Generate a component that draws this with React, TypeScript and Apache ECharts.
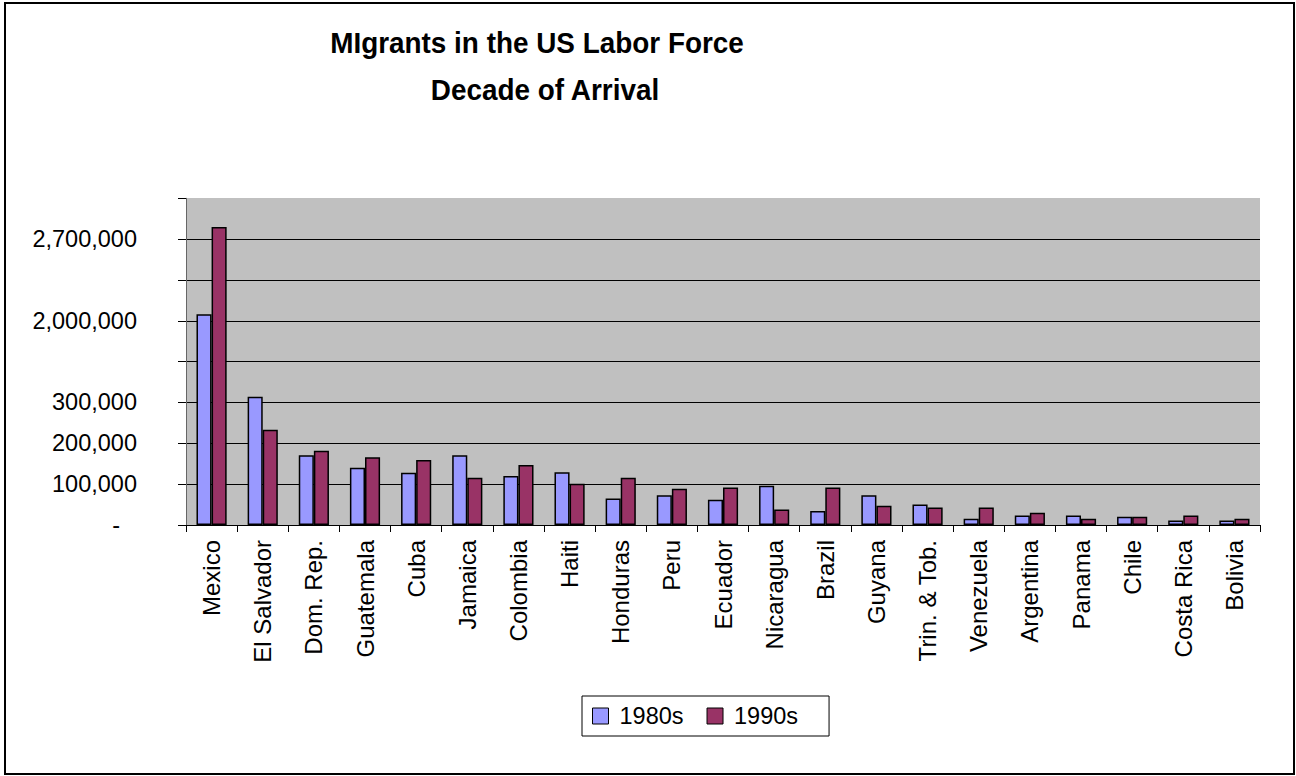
import React, { useEffect, useRef } from "react";
import * as echarts from "echarts";

const categories = [
  "Mexico", "El Salvador", "Dom. Rep.", "Guatemala", "Cuba", "Jamaica", "Colombia",
  "Haiti", "Honduras", "Peru", "Ecuador", "Nicaragua", "Brazil", "Guyana",
  "Trin. & Tob.", "Venezuela", "Argentina", "Panama", "Chile", "Costa Rica", "Bolivia",
];
const arrivals1980s = [
  2056000, 314000, 171000, 140000, 128000, 171000, 120000, 129000, 65000, 73000, 62000,
  96000, 34000, 73000, 50000, 15000, 23000, 23000, 20000, 11000, 11000,
];
const arrivals1990s = [
  2805000, 233000, 182000, 166000, 159000, 116000, 147000, 101000, 116000, 89000, 92000,
  38000, 92000, 47000, 43000, 43000, 30000, 15000, 20000, 23000, 15000,
];
const seriesNames = ["1980s", "1990s"];
const yTickLabels = ["-", "100,000", "200,000", "300,000", "", "2,000,000", "", "2,700,000", ""];
const titleLines = ["MIgrants in the US Labor Force", "Decade of Arrival"];

// broken axis: below 1,000,000 one step = 100,000; above, 2,000,000 sits at step 5, 350,000 per step
function toAxis(v: number): number {
  return v < 1000000 ? v / 100000 : 5 + (v - 2000000) / 350000;
}

const FONT = "'Liberation Sans', Arial, Helvetica, sans-serif";

export default function App() {
  const ref = useRef<HTMLDivElement>(null);
  useEffect(() => {
    if (!ref.current) return;
    const chart = echarts.init(ref.current, null, { renderer: "svg" });
    const splitColors = yTickLabels.map((_, i) => (i === yTickLabels.length - 1 ? "#C0C0C0" : "#000000"));
    chart.setOption({
      animation: false,
      backgroundColor: "#ffffff",
      textStyle: { fontFamily: FONT },
      graphic: [
        {
          type: "rect",
          shape: { x: 5, y: 3, width: 1289, height: 771 },
          style: { fill: "none", stroke: "#000", lineWidth: 2 },
          silent: true,
        },
        {
          type: "text",
          x: 537,
          y: 43,
          scaleX: 0.93,
          style: {
            text: titleLines[0],
            fill: "#000",
            font: `bold 30px ${FONT}`,
            textAlign: "center",
            textVerticalAlign: "middle",
          },
        },
        {
          type: "text",
          x: 545,
          y: 89.5,
          scaleX: 0.93,
          style: {
            text: titleLines[1],
            fill: "#000",
            font: `bold 30px ${FONT}`,
            textAlign: "center",
            textVerticalAlign: "middle",
          },
        },
      ],
      legend: {
        data: seriesNames,
        left: 582,
        top: 696,
        orient: "horizontal",
        icon: "rect",
        itemWidth: 16,
        itemHeight: 16,
        itemGap: 23,
        padding: [8, 31, 8, 10],
        borderColor: "#000",
        borderWidth: 1,
        itemStyle: { borderColor: "#000", borderWidth: 1 },
        textStyle: { fontSize: 23.5, color: "#000", fontFamily: FONT, padding: [0, 0, 0, 6] },
      },
      grid: { left: 186, right: 36, top: 198.3, bottom: 251, show: true, backgroundColor: "#C0C0C0", borderWidth: 0 },
      xAxis: {
        type: "category",
        data: categories,
        boundaryGap: true,
        axisLine: { show: true, lineStyle: { color: "#000", width: 1 } },
        axisTick: { show: true, length: 7, lineStyle: { color: "#000" } },
        axisLabel: { rotate: 90, margin: 15, fontSize: 24, color: "#000", fontFamily: FONT, interval: 0 },
        splitLine: { show: false },
      },
      yAxis: {
        type: "value",
        min: 0,
        max: yTickLabels.length - 1,
        interval: 1,
        axisLine: { show: true, lineStyle: { color: "#666", width: 1 } },
        axisTick: { show: true, length: 8, lineStyle: { color: "#000" } },
        axisLabel: {
          margin: 49,
          fontSize: 23.5,
          color: "#000",
          fontFamily: FONT,
          formatter: (v: number) => {
            const s = yTickLabels[Math.round(v)] ?? "";
            return s === "-" ? "{d|-}" : s;
          },
          rich: { d: { fontSize: 23.5, color: "#000", fontFamily: FONT, padding: [0, 17, 0, 0] } },
        },
        splitLine: { show: true, lineStyle: { color: splitColors, width: 1 } },
      },
      series: [
        {
          name: seriesNames[0],
          type: "bar",
          data: arrivals1980s.map(toAxis),
          barGap: "0%",
          barCategoryGap: "41%",
          itemStyle: { color: "#9999FF", borderColor: "#000", borderWidth: 1.5 },
        },
        {
          name: seriesNames[1],
          type: "bar",
          data: arrivals1990s.map(toAxis),
          barGap: "0%",
          barCategoryGap: "41%",
          itemStyle: { color: "#993366", borderColor: "#000", borderWidth: 1.5 },
        },
      ],
    });
    return () => chart.dispose();
  }, []);
  return <div ref={ref} style={{ position: "absolute", left: 0, top: 0, width: 1296, height: 776 }} />;
}
